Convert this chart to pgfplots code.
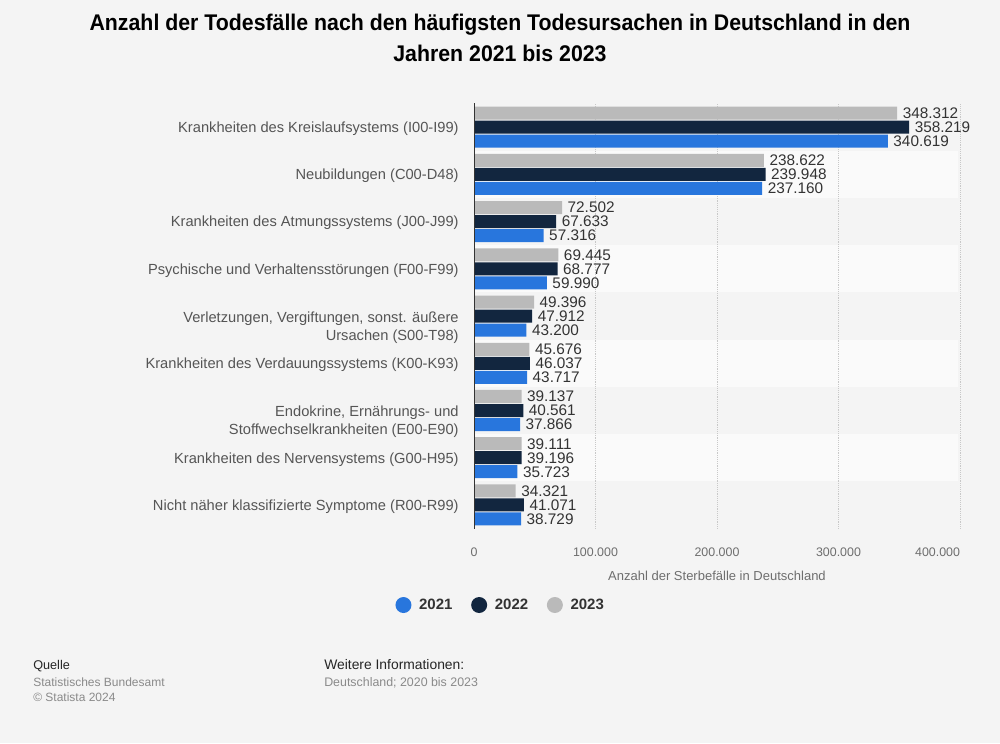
\documentclass[border=0pt]{standalone}
\usepackage{fontspec}
\setmainfont{Liberation Sans}
\newfontfamily\titlefont[FakeStretch=0.94]{Liberation Sans}
\usepackage{pgfplots}
\pgfplotsset{compat=1.18}
\definecolor{bg}{HTML}{F4F4F4}
\definecolor{band}{HTML}{FAFAFA}
\definecolor{c2021}{HTML}{2876DD}
\definecolor{c2022}{HTML}{12263F}
\definecolor{c2023}{HTML}{BABABA}
\definecolor{gridcol}{HTML}{C8C8C8}
\definecolor{axcol}{HTML}{333333}
\definecolor{tickcol}{HTML}{6E6E6E}
\definecolor{catcol}{HTML}{555555}
\definecolor{valcol}{HTML}{333333}
\definecolor{footgray}{HTML}{8A8A8A}
\begin{document}
\begin{tikzpicture}
\fill[bg] (0,0) rectangle (750pt,-557.25pt);
\begin{scope}[x=0.75pt,y=-0.75pt]
\foreach \i in {1,3,5,7}{\fill[band] (474,{103.4+47.244*\i}) rectangle (958,{103.4+47.244*(\i+1)});}
\node[font={\titlefont\bfseries\fontsize{17pt}{23.25pt}\selectfont}, align=center, text=black] at (500,37.5) {Anzahl der Todesfälle nach den häufigsten Todesursachen in Deutschland in den\\Jahren 2021 bis 2023};
\node[anchor=base west, inner sep=0pt, font=\fontsize{9.5pt}{11pt}\selectfont, text=black!85] at (33,669) {Quelle};
\node[anchor=base west, inner sep=0pt, font=\fontsize{9pt}{11pt}\selectfont, text=footgray] at (33,686) {Statistisches Bundesamt};
\node[anchor=base west, inner sep=0pt, font=\fontsize{9pt}{11pt}\selectfont, text=footgray] at (33,701) {© Statista 2024};
\node[anchor=base west, inner sep=0pt, font=\fontsize{10.4pt}{12pt}\selectfont, text=black!85] at (324,669) {Weitere Informationen:};
\node[anchor=base west, inner sep=0pt, font=\fontsize{9.3pt}{11pt}\selectfont, text=footgray] at (324,686) {Deutschland; 2020 bis 2023};
\end{scope}
\begin{axis}[
  at={(355.5pt,-396.45pt)}, anchor=south west,
  scale only axis, width=364.5pt, height=318.9pt,
  xmin=0, xmax=400000, ymin=-0.5, ymax=8.5,
  axis line style={draw=none},
  scaled x ticks=false,
  xtick={0,100000,200000,300000,400000},
  xticklabels={0,100.000,200.000,300.000,{\makebox[0pt][r]{400.000}}},
  major tick length=0pt,
  xmajorgrids,
  major grid style={gridcol, densely dotted, line width=0.75pt},
  xticklabel style={font=\fontsize{9.3pt}{11pt}\selectfont, text=tickcol, yshift=-11pt},
  ytick={0,1,2,3,4,5,6,7,8},
  yticklabels={
    {Nicht näher klassifizierte Symptome (R00-R99)},
    {Krankheiten des Nervensystems (G00-H95)},
    {\strut\\Endokrine, Ernährungs- und\\Stoffwechselkrankheiten (E00-E90)},
    {Krankheiten des Verdauungssystems (K00-K93)},
    {\strut\\Verletzungen, Vergiftungen, sonst. äußere\\Ursachen (S00-T98)},
    {Psychische und Verhaltensstörungen (F00-F99)},
    {Krankheiten des Atmungssystems (J00-J99)},
    {Neubildungen (C00-D48)},
    {Krankheiten des Kreislaufsystems (I00-I99)}},
  yticklabel style={font=\fontsize{11pt}{13.5pt}\selectfont, text=catcol, align=right, xshift=-8pt, yshift=-1.2pt},
  xlabel={Anzahl der Sterbefälle in Deutschland},
  xlabel style={font=\fontsize{9.75pt}{11pt}\selectfont, text=tickcol, yshift=-3.5pt},
  legend style={at={(0.0556,-0.1797)}, anchor=center, draw=none, fill=none,
    font=\bfseries\fontsize{11.25pt}{13pt}\selectfont, text=valcol,
    /tikz/every even column/.append style={column sep=12pt}},
  legend columns=3,
  nodes near coords,
  point meta=explicit symbolic,
  every node near coord/.append style={font=\fontsize{11.5pt}{12pt}\selectfont, text=valcol, anchor=west, inner sep=1pt, xshift=3pt},
]
\addplot[xbar, bar width=9.75pt, bar shift=-10.5pt, fill=c2021, draw=none,
  every node near coord/.append style={yshift=-10.5pt},
  legend image code/.code={\fill[c2021] (6pt,0pt) circle (6pt); \path (15.75pt,0pt);}]
  coordinates {(340619,8) [340.619] (237160,7) [237.160] (57316,6) [57.316] (59990,5) [59.990] (43200,4) [43.200] (43717,3) [43.717] (37866,2) [37.866] (35723,1) [35.723] (38729,0) [38.729]};
\addlegendentry{2021}
\addplot[xbar, bar width=9.75pt, bar shift=0pt, fill=c2022, draw=none,
  legend image code/.code={\fill[c2022] (6pt,0pt) circle (6pt); \path (15.75pt,0pt);}]
  coordinates {(358219,8) [358.219] (239948,7) [239.948] (67633,6) [67.633] (68777,5) [68.777] (47912,4) [47.912] (46037,3) [46.037] (40561,2) [40.561] (39196,1) [39.196] (41071,0) [41.071]};
\addlegendentry{2022}
\addplot[xbar, bar width=9.75pt, bar shift=10.5pt, fill=c2023, draw=none,
  every node near coord/.append style={yshift=10.5pt},
  legend image code/.code={\fill[c2023] (6pt,0pt) circle (6pt); \path (15.75pt,0pt);}]
  coordinates {(348312,8) [348.312] (238622,7) [238.622] (72502,6) [72.502] (69445,5) [69.445] (49396,4) [49.396] (45676,3) [45.676] (39137,2) [39.137] (39111,1) [39.111] (34321,0) [34.321]};
\addlegendentry{2023}
\draw[axcol, line width=1.5pt] (axis cs:0,-0.5) -- (axis cs:0,8.5);
\end{axis}
\end{tikzpicture}
\end{document}
